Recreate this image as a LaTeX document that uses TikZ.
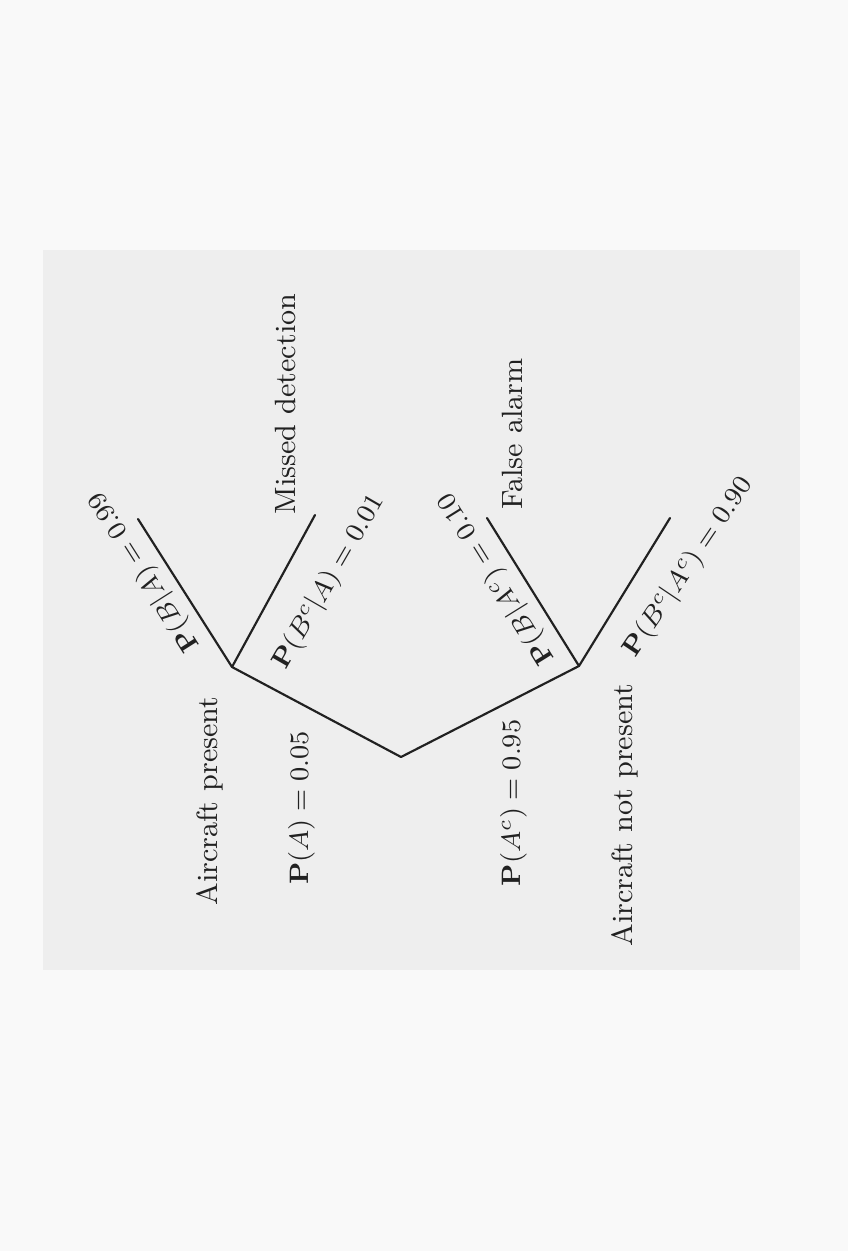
\documentclass[tikz,border=0pt]{standalone}
\usepackage{amsmath}
\definecolor{ink}{gray}{0.13}
\definecolor{pagebg}{gray}{0.975}
\definecolor{panelbg}{gray}{0.935}
\begin{document}
\begin{tikzpicture}[x=0.3pt,y=-0.3pt,
  branch/.style={draw=ink, line width=0.65pt, line join=round, line cap=round},
  lab/.style={font=\fontsize{8.8pt}{10pt}\selectfont, inner sep=0pt, anchor=base, text=ink},
  mlab/.style={lab, font=\fontsize{8pt}{9.5pt}\selectfont}]
\useasboundingbox (0,0) rectangle (848,1251);
\fill[pagebg] (0,0) rectangle (848,1251);
\fill[panelbg] (43,250) rectangle (800,970);
% tree points
\coordinate (R)  at (401,757);
\coordinate (A)  at (232,667);
\coordinate (Ac) at (579,666);
\coordinate (L1) at (138,519);
\coordinate (L2) at (315,515);
\coordinate (L3) at (487,518);
\coordinate (L4) at (670,518);
% branches
\draw[branch] (L1) -- (A) -- (R) -- (Ac) -- (L4);
\draw[branch] (A) -- (L2);
\draw[branch] (Ac) -- (L3);
% labels
\node[lab, rotate=90] (tA)  at (217,801) {Aircraft present};
\node[mlab, rotate=90] (pA)  at (308,808) {$\mathbf{P}(A) = 0.05$};
\node[mlab, rotate=90] (pAc) at (520,803) {$\mathbf{P}(A^c) = 0.95$};
\node[lab, rotate=90] (tAc) at (632,815) {Aircraft not present};
\node[lab, rotate=90] (tMD) at (295,404) {Missed detection};
\node[lab, rotate=90] (tFA) at (522,434) {False alarm};
\node[mlab, rotate=122.4] (pBA)   at (150.2,568) {$\mathbf{P}(B|A) = 0.99$};
\node[mlab, rotate=60]    (pBcA)  at (334.8,585.2) {$\mathbf{P}(B^c|A) = 0.01$};
\node[mlab, rotate=121.9] (pBAc)  at (502.3,574.8) {$\mathbf{P}(B|A^c) = 0.10$};
\node[mlab, rotate=56]    (pBcAc) at (693.8,571.1) {$\mathbf{P}(B^c|A^c) = 0.90$};
\end{tikzpicture}
\end{document}
